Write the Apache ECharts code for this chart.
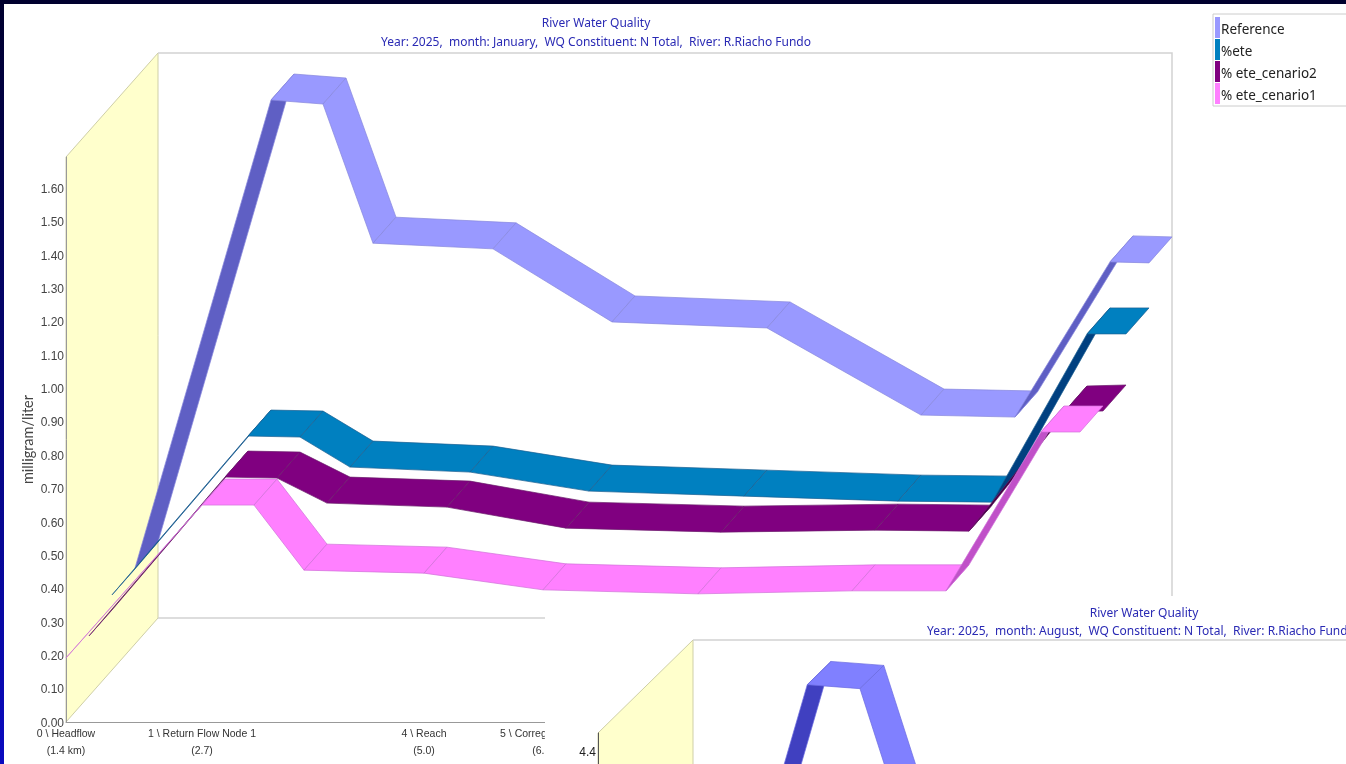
<!DOCTYPE html>
<html>
<head>
<meta charset="utf-8">
<style>html,body{margin:0;padding:0;background:#fff}#c{width:1346px;height:764px}</style>
<script src="https://cdn.jsdelivr.net/npm/echarts@6/dist/echarts.min.js"></script>
</head>
<body>
<div id="c"></div>
<script>
// Data
const nodeKm = [1.40, 2.76, 3.28, 3.78, 4.98, 6.17, 7.72, 9.26, 10.20, 11.15, 11.54];
const reference = [0.228, 1.630, 1.618, 1.201, 1.184, 0.965, 0.947, 0.686, 0.680, 1.145, 1.142];
const ete = [0.225, 0.701, 0.698, 0.608, 0.593, 0.536, 0.521, 0.506, 0.503, 1.007, 1.007];
const eteCenario2 = [0.180, 0.656, 0.653, 0.578, 0.566, 0.503, 0.491, 0.497, 0.494, 0.851, 0.854];
const eteCenario1 = [0.192, 0.650, 0.650, 0.455, 0.446, 0.396, 0.384, 0.393, 0.393, 0.869, 0.869];
const augustReference = [0.55, 4.387, 4.355, 3.08];
const xTickKm = [1.4, 2.76, 4.98, 6.17];
const xTickLabels = ['0 \\ Headflow\n(1.4 km)', '1 \\ Return Flow Node 1\n(2.7)', '4 \\ Reach\n(5.0)', '5 \\ Corrego Cocho\n(6.2)'];
const seriesNames = ['Reference', '%ete', '% ete_cenario2', '% ete_cenario1'];
const titleMain = 'River Water Quality';
const subJanuary = 'Year: 2025,  month: January,  WQ Constituent: N Total,  River: R.Riacho Fundo';
const subAugust = 'Year: 2025,  month: August,  WQ Constituent: N Total,  River: R.Riacho Fundo';

const X_MIN = 1.4, X_MAX = 11.54;
const Y1_MAX = 1.693, Y2_MAX = 4.56;
const D1 = [92, -104], D2 = [95, -93];   // full depth of the 3D box in pixels

function ribbon(vals, slot, D, fill, under, edge) {
  const dx = D[0] / 4, dy = D[1] / 4;
  return function (params, api) {
    const i = params.dataIndex;
    if (i >= vals.length - 1) return null;
    const a = api.coord([nodeKm[i], vals[i]]), b = api.coord([nodeKm[i + 1], vals[i + 1]]);
    const ox = dx * slot, oy = dy * slot;
    const p1 = [a[0] + ox, a[1] + oy], p2 = [b[0] + ox, b[1] + oy];
    const p3 = [p2[0] + dx, p2[1] + dy], p4 = [p1[0] + dx, p1[1] + dy];
    const cross = (b[0] - a[0]) * dy - (b[1] - a[1]) * dx;
    const isUnder = cross > 0;
    return {
      type: 'polygon',
      shape: { points: [p1, p2, p3, p4] },
      style: { fill: isUnder ? under : fill, stroke: edge, lineWidth: 0.7 }
    };
  };
}

function box(D, yMax, withBackFrame) {
  return function (params, api) {
    const o = api.coord([X_MIN, 0]), t = api.coord([X_MIN, yMax]), r = api.coord([X_MAX, 0]);
    const children = [];
    children.push({
      type: 'polygon',
      shape: { points: [o, t, [t[0] + D[0], t[1] + D[1]], [o[0] + D[0], o[1] + D[1]]] },
      style: { fill: '#ffffcc', stroke: '#cfcfa8', lineWidth: 1 }
    });
    const back = withBackFrame
      ? [[t[0] + D[0], t[1] + D[1]], [r[0] + D[0], t[1] + D[1]], [r[0] + D[0], r[1] + D[1]], [o[0] + D[0], o[1] + D[1]]]
      : [[t[0] + D[0], t[1] + D[1]], [r[0] + D[0], t[1] + D[1]]];
    children.push({ type: 'polyline', shape: { points: back }, style: { fill: 'none', stroke: '#d2d2d2', lineWidth: 1.5 } });
    return { type: 'group', children };
  };
}

const toPairs = vals => vals.map((v, i) => [nodeKm[i], v]);
const titleText = { color: '#2a2ab4', fontSize: 12, fontWeight: 'normal', fontFamily: 'Noto Sans', lineHeight: 15 };

const styles = [
  { vals: reference, slot: 3, fill: '#9999ff', under: '#5f5fc4', edge: '#8686dc' },
  { vals: ete, slot: 2, fill: '#0080c0', under: '#004080', edge: '#1a5f90' },
  { vals: eteCenario2, slot: 1, fill: '#800080', under: '#400040', edge: '#6a1a6a' },
  { vals: eteCenario1, slot: 0, fill: '#ff80ff', under: '#c050c8', edge: '#d070d8' }
];

const option = {
  animation: false,
  backgroundColor: '#ffffff',
  title: [
    { text: titleMain, left: 596, top: 16, textAlign: 'center', padding: 0, textStyle: titleText },
    { text: subJanuary, left: 596, top: 35, textAlign: 'center', padding: 0, textStyle: titleText },
    { text: titleMain, left: 1144, top: 606, textAlign: 'center', padding: 0, textStyle: titleText },
    { text: subAugust, left: 1141, top: 624, textAlign: 'center', padding: 0, textStyle: titleText }
  ],
  legend: {
    data: seriesNames, orient: 'vertical', left: 1213, top: 14, selectedMode: false,
    icon: 'rect', itemWidth: 5, itemHeight: 21, itemGap: 1,
    padding: [3, 40, 2, 2], align: 'left',
    backgroundColor: '#ffffff', borderColor: '#cccccc', borderWidth: 1,
    formatter: name => '{t|' + name + '}',
    textStyle: { rich: { t: { color: '#222222', fontSize: 13.5, fontFamily: 'Noto Sans', padding: [6, 0, 0, -4] } } }
  },
  grid: [
    { left: 66, top: 157, width: 1014, height: 565, outerBoundsMode: 'none' },
    { left: 598, top: 733, width: 1029, height: 565, outerBoundsMode: 'none' }
  ],
  xAxis: [
    { type: 'value', gridIndex: 0, min: X_MIN, max: X_MAX, z: 1, splitLine: { show: false },
      axisLine: { show: true, lineStyle: { color: '#999999', width: 1 } }, axisTick: { show: false },
      axisLabel: { customValues: xTickKm, margin: 4, color: '#333333', fontSize: 10.5, fontFamily: 'Liberation Sans', lineHeight: 17,
        hideOverlap: false, formatter: v => xTickLabels[xTickKm.indexOf(v)] || '' } },
    { type: 'value', gridIndex: 1, min: X_MIN, max: X_MAX, show: false, splitLine: { show: false } }
  ],
  yAxis: [
    { type: 'value', gridIndex: 0, min: 0, max: Y1_MAX, interval: 0.1, z: 1, splitLine: { show: false },
      name: 'milligram/liter', nameLocation: 'middle', nameGap: 30, nameMoveOverlap: false,
      nameTextStyle: { color: '#444444', fontSize: 14.5, fontFamily: 'Lato' },
      axisLine: { show: true, lineStyle: { color: '#999999', width: 1 } }, axisTick: { show: false },
      axisLabel: { margin: 2, showMaxLabel: false, formatter: v => '{t|' + v.toFixed(2) + '}',
        rich: { t: { color: '#444444', fontSize: 12, fontFamily: 'Liberation Sans', padding: [3, 0, 0, 0] } } } },
    { type: 'value', gridIndex: 1, min: 0, max: Y2_MAX, interval: 0.4, z: 5, splitLine: { show: false },
      axisLine: { show: true, lineStyle: { color: '#555555', width: 1 } }, axisTick: { show: false },
      axisLabel: { customValues: [4.4], margin: 2, color: '#222222', fontSize: 12, fontFamily: 'Liberation Sans', formatter: v => v.toFixed(1) } }
  ],
  series: [
    { type: 'custom', name: 'box1', xAxisIndex: 0, yAxisIndex: 0, z: 0, silent: true, data: [[X_MIN, 0]], renderItem: box(D1, Y1_MAX, true) },
    { type: 'custom', name: 'box2', xAxisIndex: 1, yAxisIndex: 1, z: 3, silent: true, data: [[X_MIN, 0]], renderItem: box(D2, Y2_MAX, false) },
    { type: 'custom', name: 'Reference August', xAxisIndex: 1, yAxisIndex: 1, z: 4, silent: true,
      data: augustReference.map((v, i) => [nodeKm[i], v]),
      renderItem: ribbon(augustReference, 3, D2, '#8080ff', '#4040c0', '#6a6ae0') }
  ].concat(styles.map((s, i) => ({
    type: 'custom', name: seriesNames[i], xAxisIndex: 0, yAxisIndex: 0, z: 3 + i * 0.1, silent: true,
    itemStyle: { color: s.fill },
    data: toPairs(s.vals),
    renderItem: ribbon(s.vals, s.slot, D1, s.fill, s.under, s.edge)
  }))),
  graphic: { elements: [
    { type: 'rect', z: 2, silent: true, shape: { x: 545, y: 596, width: 801, height: 168 }, style: { fill: '#ffffff' } },
    { type: 'rect', z: 20, silent: true, shape: { x: 0, y: 0, width: 1346, height: 4 }, style: { fill: '#00002e' } },
    { type: 'rect', z: 20, silent: true, shape: { x: 0, y: 0, width: 4, height: 764 },
      style: { fill: { type: 'linear', x: 0, y: 0, x2: 0, y2: 1, colorStops: [{ offset: 0, color: '#00002e' }, { offset: 1, color: '#0a0ac0' }] } } }
  ] }
};
echarts.init(document.getElementById('c'), null, { renderer: 'canvas' }).setOption(option);
</script>
</body>
</html>
